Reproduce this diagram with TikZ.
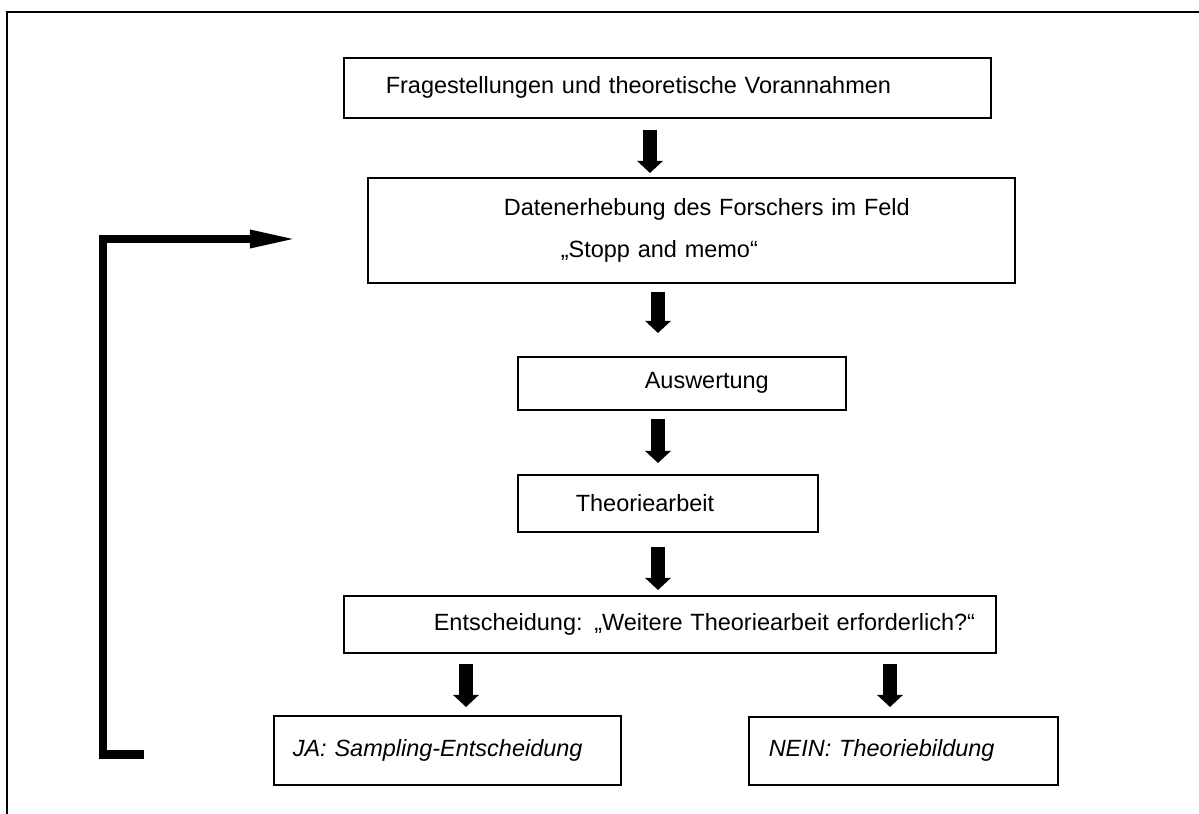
\documentclass[tikz,border=0pt]{standalone}
\usepackage{fontspec}
\setmainfont{Liberation Sans}
\usetikzlibrary{arrows.meta}

\begin{document}
\begin{tikzpicture}[
x=0.025cm, y=-0.025cm,
box/.style={rectangle, draw=black, line width=1.1pt, anchor=north west, inner xsep=0pt, inner ysep=0pt, align=left, font=\fontsize{16.7}{30}\selectfont},
down/.style={line width=0.35cm, -{Triangle[width=0.625cm, length=0.3cm]}},
loopback/.style={line width=0.2125cm, line join=miter, -{Triangle[width=0.4cm, length=1.25cm]}}
]
\useasboundingbox (0,0) rectangle (1199,814);
\draw[line width=1.1pt] (1199,12) -- (7,12) -- (7,814);
%Nodes
\node[box, text width=16.175cm, minimum height=1.5cm]   (q)    at (343,57)  {\hspace*{1.05cm}Fragestellungen und theoretische Vorannahmen};
\node[box, text width=16.175cm, minimum height=2.625cm] (data) at (367,177) {\hspace*{3.4cm}Datenerhebung des Forschers im Feld\\\hspace*{4.825cm}„Stopp and memo“};
\node[box, text width=8.2cm, minimum height=1.325cm]    (eval) at (517,356) {\hspace*{3.175cm}Auswertung};
\node[box, text width=7.5cm, minimum height=1.425cm]    (theo) at (517,474) {\hspace*{1.45cm}Theoriearbeit};
\node[box, text width=16.3cm, minimum height=1.425cm]   (dec)  at (343,595) {\hspace*{2.25cm}Entscheidung: „Weitere Theoriearbeit erforderlich?“};
\node[box, text width=8.675cm, minimum height=1.725cm]  (ja)   at (273,715) {\hspace*{0.475cm}\itshape JA: Sampling-Entscheidung};
\node[box, text width=7.725cm, minimum height=1.7cm]    (nein) at (748,716) {\hspace*{0.5cm}\itshape NEIN: Theoriebildung};
\coordinate (c1) at (650,0);
\coordinate (c2) at (658,0);
\coordinate (c3) at (466,0);
\coordinate (c4) at (890,0);
\coordinate (back) at (144,754.5);
\coordinate (reentry) at (300,239);
%Lines
\draw[down, shorten <=0.275cm, shorten >=0.1cm]   (q.south -| c1)    -- (data.north -| c1);
\draw[down, shorten <=0.2cm, shorten >=0.575cm]   (data.south -| c2) -- (eval.north -| c2);
\draw[down, shorten <=0.2cm, shorten >=0.275cm]   (eval.south -| c2) -- (theo.north -| c2);
\draw[down, shorten <=0.35cm, shorten >=0.125cm]  (theo.south -| c2) -- (dec.north -| c2);
\draw[down, shorten <=0.25cm, shorten >=0.2cm]    (dec.south -| c3)  -- (ja.north -| c3);
\draw[down, shorten <=0.25cm, shorten >=0.225cm]  (dec.south -| c4)  -- (nein.north -| c4);
\draw[loopback] (back) -- ++(-41,0) |- (reentry);
\end{tikzpicture}
\end{document}
